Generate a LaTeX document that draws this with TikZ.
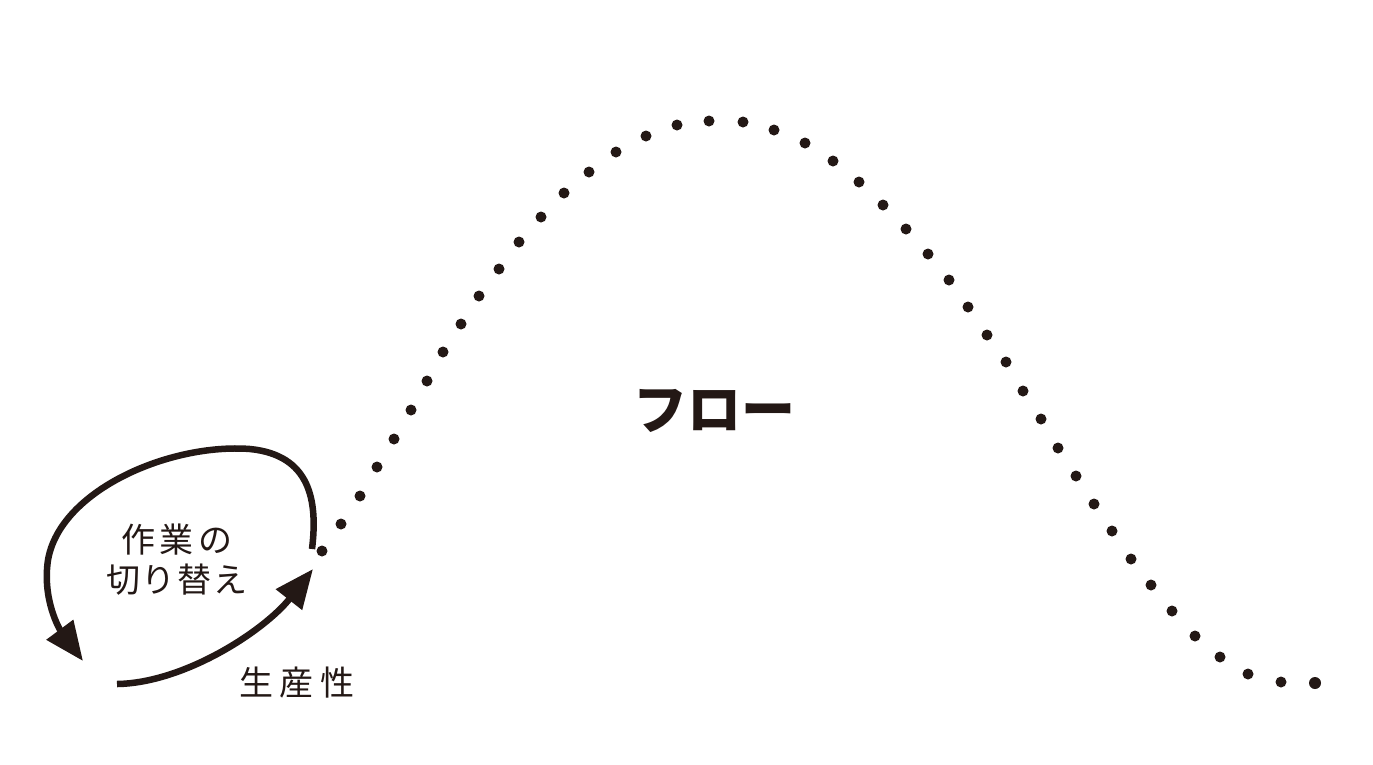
\documentclass[tikz,border=0pt]{standalone}
\usepackage{fontspec}
\newfontfamily\jp{Noto Sans CJK JP}
\usetikzlibrary{arrows.meta}
\definecolor{ink}{RGB}{35,24,21}
\begin{document}
\begin{tikzpicture}[x=1pt,y=-1pt,
  dotstyle/.style={fill=ink},
  loopline/.style={draw=ink,line width=6.5pt,-{Triangle[length=39pt,width=32pt]}},
  lbl/.style={text=ink,font=\jp\fontsize{34}{34}\selectfont,inner sep=0pt},
  bigl/.style={text=ink,font=\jp\bfseries\fontsize{54}{54}\selectfont,inner sep=0pt}]
\useasboundingbox (0,0) rectangle (1373,764);
\fill[white] (0,0) rectangle (1373,764);
% dotted curve
\foreach \x/\y in {322/551,341/524,360/496,377/467,394/439,411/410,427/381,443/352,461/324,479/296,499/269,519/242,541/217,564/193,589/172,616/152,646/136,677/125,709/121,743/122,774/130,805/143,833/161,859/182,883/205,906/229,928/254,949/280,968/307,987/335,1006/362,1023/391,1041/419,1058/448,1076/476,1094/504,1112/531,1131/559,1151/585,1172/611,1195/636,1220/657,1248/674,1281/682}
  \fill[dotstyle] (\x,\y) circle (5.5);
\fill[dotstyle] (1315,683) circle (6);
% arrows
\coordinate (loopstart) at (312,549);
\coordinate (looptip) at (83,661);
\coordinate (prodstart) at (117,684);
\coordinate (prodtip) at (313,569);
\draw[loopline] (loopstart) .. controls (318,500) and (310,455) .. (250,449)
   .. controls (170,443) and (60,490) .. (48,560)
   .. controls (42,600) and (60,630) .. (looptip);
\draw[loopline] (prodstart) .. controls (185,683) and (265,630) .. (prodtip);
% labels
\node[lbl] (sagyo) at (177,540) {作\kern5pt 業\kern5pt の};
\node[lbl] (kirikae) at (177,580) {切\kern2pt り\kern2pt 替\kern2pt え};
\node[lbl] (seisan) at (297,683) {生\kern7pt 産\kern7pt 性};
\node[bigl] (flow) at (714,411) {フロー};
\end{tikzpicture}
\end{document}
